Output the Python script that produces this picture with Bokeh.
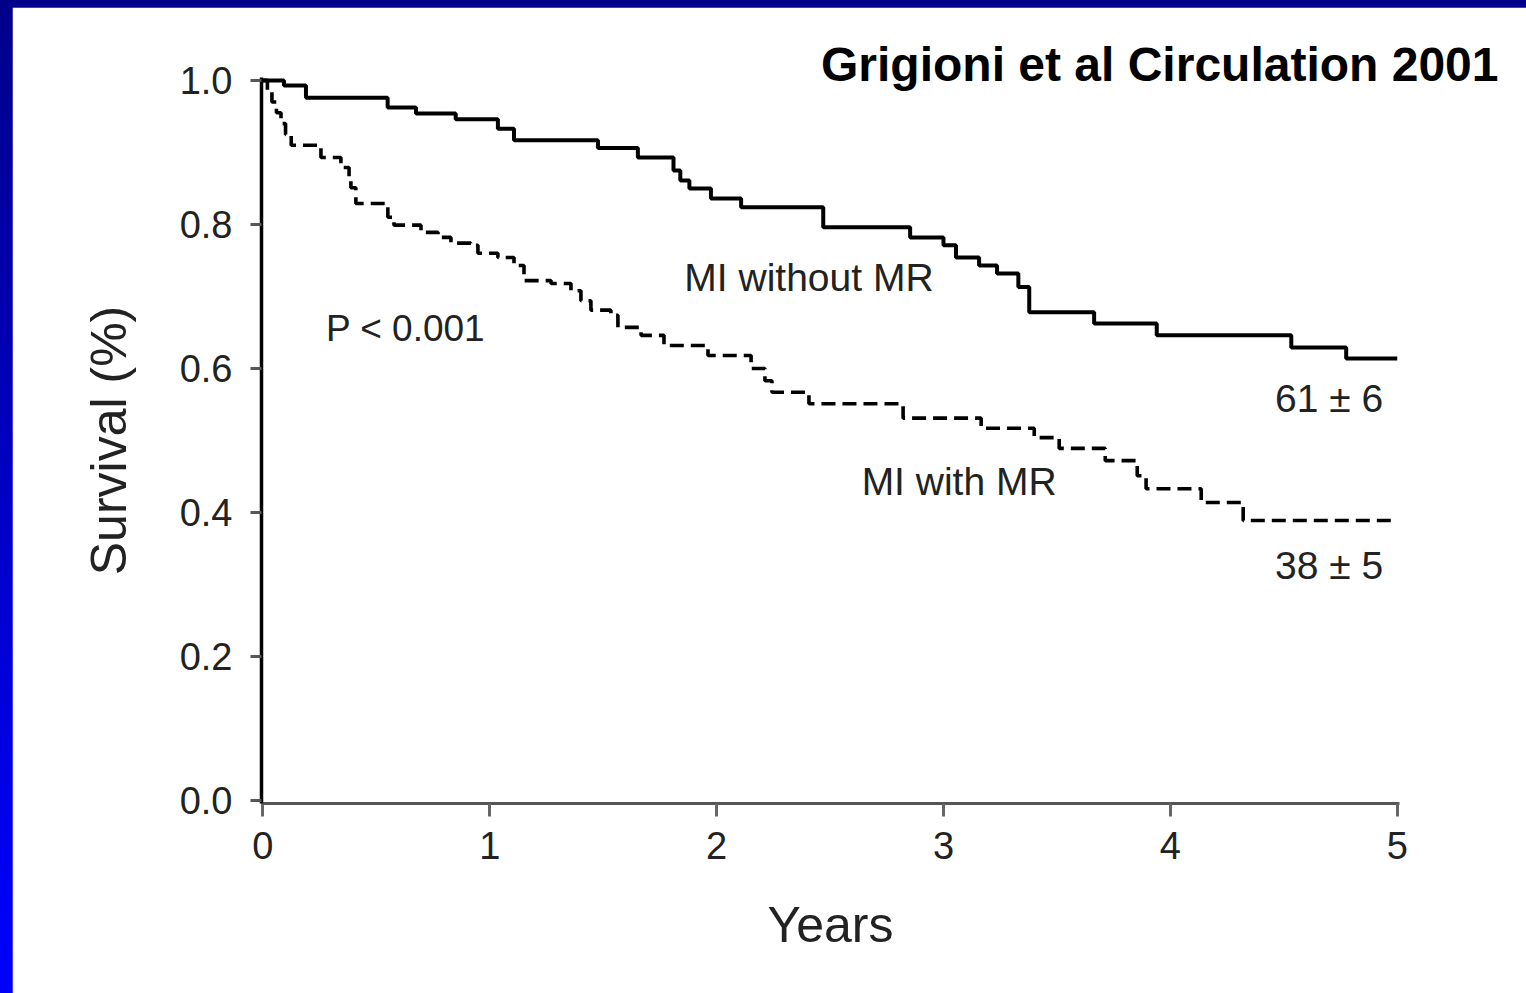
from bokeh.plotting import figure
from bokeh.models import Range1d, FixedTicker, ColumnDataSource, Label, GlobalInlineStyleSheet
from bokeh.core.properties import value
from bokeh.embed import file_html
from bokeh.resources import INLINE

# --- data ---
upper_t = [0, 0.093, 0.19, 0.55, 0.675, 0.85, 1.036, 1.107, 1.477, 1.653, 1.81, 1.84, 1.88,
           1.975, 2.108, 2.47, 2.853, 3.0, 3.055, 3.157, 3.236, 3.33, 3.378, 3.664, 3.94,
           4.533, 4.775, 5.0]
upper_s = [1.0, 0.993, 0.976, 0.9625, 0.954, 0.946, 0.933, 0.917, 0.906, 0.893, 0.875, 0.861,
           0.85, 0.836, 0.824, 0.796, 0.782, 0.771, 0.754, 0.743, 0.732, 0.713, 0.678, 0.6625,
           0.646, 0.629, 0.614, 0.614]

lower_t = [0, 0.02, 0.04, 0.06, 0.08, 0.10, 0.125, 0.256, 0.344, 0.38, 0.388, 0.41, 0.551,
           0.578, 0.697, 0.772, 0.829, 0.917, 0.948, 1.036, 1.107, 1.151, 1.27, 1.358, 1.402,
           1.446, 1.534, 1.565, 1.667, 1.768, 1.962, 2.152, 2.213, 2.244, 2.407, 2.822, 3.166,
           3.4, 3.51, 3.713, 3.854, 3.893, 4.136, 4.321, 5.0]
lower_s = [1.0, 0.985, 0.97, 0.955, 0.94, 0.925, 0.91, 0.893, 0.879, 0.865, 0.851, 0.829, 0.81,
           0.799, 0.789, 0.782, 0.774, 0.771, 0.76, 0.754, 0.743, 0.722, 0.718, 0.708, 0.694,
           0.681, 0.674, 0.657, 0.646, 0.632, 0.618, 0.6, 0.583, 0.567, 0.551, 0.531, 0.517,
           0.504, 0.489, 0.472, 0.451, 0.433, 0.414, 0.389, 0.389]

x_ticks = [0, 1, 2, 3, 4, 5]
x_tick_labels = ["0", "1", "2", "3", "4", "5"]
y_ticks = [0.0, 0.2, 0.4, 0.6, 0.8, 1.0]
y_tick_labels = ["0.0", "0.2", "0.4", "0.6", "0.8", "1.0"]

note_texts = ["MI without MR", "MI with MR", "61 \u00b1 6", "38 \u00b1 5"]
note_x = [2.407, 3.069, 4.70, 4.70]
note_y = [0.726, 0.443, 0.558, 0.326]

p_text = "P < 0.001"
title_text = "Grigioni et al Circulation 2001"

FONT = "Liberation Sans"

p = figure(frame_width=1138, frame_height=726,
           x_range=Range1d(-0.006, 5.01), y_range=Range1d(-0.004, 1.004),
           output_backend="svg", toolbar_location=None,
           min_border_left=249, min_border_right=127, min_border_top=70, min_border_bottom=190)
p.stylesheets = [GlobalInlineStyleSheet(
    css="html, body { background: linear-gradient(to bottom, #00008b, #0000ff) fixed; } "
        "body { margin: 7px 0 0 12px !important; padding: 0 !important; }")]
p.background_fill_color = "white"
p.border_fill_color = "white"
p.outline_line_color = "white"
p.outline_line_width = 2
p.xgrid.visible = False
p.ygrid.visible = False

# title (right part of the top area)
p.title.text = title_text
p.title.align = "right"
p.title.offset = -99
p.title.standoff = -27
p.title.vertical_align = "bottom"
p.title.text_font = FONT
p.title.text_font_size = "48px"
p.title.text_font_style = "bold"
p.title.text_color = "black"

# x axis
xa = p.xaxis[0]
xa.ticker = FixedTicker(ticks=x_ticks)
xa.major_label_overrides = dict(zip(x_ticks, x_tick_labels))
xa.axis_line_width = 3
xa.axis_line_color = "#555555"
xa.major_tick_line_width = 3
xa.major_tick_line_color = "#666666"
xa.major_tick_out = 13
xa.major_tick_in = 0
xa.minor_tick_line_color = None
xa.major_label_text_font = FONT
xa.major_label_text_font_size = "38px"
xa.major_label_text_color = "#222222"
xa.major_label_standoff = 15
xa.axis_label = "Years"
xa.axis_label_text_font = FONT
xa.axis_label_text_font_size = "50px"
xa.axis_label_text_font_style = "normal"
xa.axis_label_text_color = "#222222"
xa.axis_label_standoff = 35

# y axis
ya = p.yaxis[0]
ya.ticker = FixedTicker(ticks=y_ticks)
ya.major_label_overrides = dict(zip(y_ticks, y_tick_labels))
ya.axis_line_width = 3.5
ya.axis_line_color = "black"
ya.major_tick_line_width = 3
ya.major_tick_line_color = "#555555"
ya.major_tick_out = 11
ya.major_tick_in = 0
ya.minor_tick_line_color = None
ya.major_label_text_font = FONT
ya.major_label_text_font_size = "38px"
ya.major_label_text_color = "#222222"
ya.major_label_standoff = 18
ya.axis_label = "Survival (%)"
ya.axis_label_text_font = FONT
ya.axis_label_text_font_size = "50px"
ya.axis_label_text_font_style = "normal"
ya.axis_label_text_color = "#222222"
ya.axis_label_standoff = 40

# curves
p.step(upper_t, upper_s, mode="after", line_color="black", line_width=4)
p.step(lower_t, lower_s, mode="after", line_color="black", line_width=3.6, line_dash="14 7")

# annotations
src = ColumnDataSource(dict(x=note_x, y=note_y, text=note_texts))
p.text(x="x", y="y", text="text", source=src, text_font=value(FONT), text_font_size="39px",
       text_align="center", text_baseline="alphabetic", text_color="#222222")
p.add_layout(Label(x=0.278, y=0.656, text=p_text, text_font=FONT, text_font_size="37px",
                   text_align="left", text_baseline="alphabetic", text_color="#222222"))

open("out.html", "w").write(file_html(p, INLINE))
